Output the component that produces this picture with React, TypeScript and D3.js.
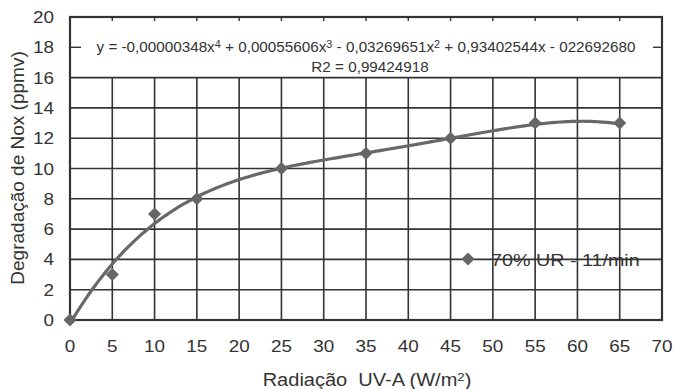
import React from "react";
import * as d3 from "d3";

const xValues = [0, 5, 10, 15, 25, 35, 45, 55, 65];
const yValues = [0, 3, 7, 8, 10, 11, 12, 13, 13];
const xTicks = [0, 5, 10, 15, 20, 25, 30, 35, 40, 45, 50, 55, 60, 65, 70];
const yTicks = [0, 2, 4, 6, 8, 10, 12, 14, 16, 18, 20];
// trendline coefficients as displayed (x^4, x^3, x^2, x, const)
const coeffs = [-0.00000348, 0.00055606, -0.03269651, 0.93402544, -0.2269268];
const seriesName = "70% UR - 11/min";

const W = 676;
const H = 389;
const left = 70, right = 662, top = 17, bottom = 320;
const font = "Liberation Sans, Arial, sans-serif";
const ink = "#333";

function SText(props: { x: number; y: number; sx: number; size: number; anchor?: string; children: any }) {
  return (
    <g transform={`translate(${props.x},${props.y}) scale(${props.sx},1)`}>
      <text x={0} y={0} textAnchor={props.anchor || "start"} fontSize={props.size} fill={ink} xmlSpace="preserve">
        {props.children}
      </text>
    </g>
  );
}

export default function App() {
  const x = d3.scaleLinear().domain([0, 70]).range([left, right]);
  const y = d3.scaleLinear().domain([0, 20]).range([bottom, top]);
  const poly = (v: number) => coeffs.reduce((acc, c) => acc * v + c, 0);
  const curvePts = d3.range(0, 65.01, 0.5).map((v) => [v, Math.max(0, poly(v))] as [number, number]);
  const line = d3.line<[number, number]>().x((d) => x(d[0])).y((d) => y(d[1])).curve(d3.curveMonotoneX);
  const diamond = d3.symbol().type(d3.symbolDiamond2).size(110)();
  const gridTop = y(16);

  return (
    <svg width={W} height={H} style={{ position: "absolute", left: 0, top: 0 }} fontFamily={font}>
      <rect x={0} y={0} width={W} height={H} fill="#fff" />
      {/* vertical grid */}
      {xTicks.slice(1, -1).map((t) => (
        <line key={"vx" + t} x1={x(t)} x2={x(t)} y1={gridTop} y2={bottom} stroke={ink} strokeWidth={1.6} />
      ))}
      {/* top ticks */}
      {xTicks.slice(1, -1).map((t) => (
        <line key={"tx" + t} x1={x(t)} x2={x(t)} y1={top} y2={top + 4} stroke={ink} strokeWidth={1.4} />
      ))}
      {/* horizontal grid */}
      {yTicks.filter((t) => t > 0 && t <= 16).map((t) => (
        <line key={"hy" + t} x1={left} x2={right} y1={y(t)} y2={y(t)} stroke={ink} strokeWidth={1.6} />
      ))}
      <line x1={left} x2={left + 11} y1={y(18)} y2={y(18)} stroke={ink} strokeWidth={1.4} />
      <line x1={right - 9} x2={right} y1={y(18)} y2={y(18)} stroke={ink} strokeWidth={1.4} />
      {/* frame */}
      <rect x={left} y={top} width={right - left} height={bottom - top} fill="none" stroke={ink} strokeWidth={2.2} />

      {/* trendline */}
      <path d={line(curvePts) || ""} fill="none" stroke="#686868" strokeWidth={3.2} />
      {xValues.map((v, i) => (
        <path key={"p" + i} d={diamond || ""} transform={`translate(${x(v)},${y(yValues[i])})`} fill="#666" />
      ))}

      {/* equation */}
      <SText x={366} y={52} sx={1.09} size={14} anchor="middle">
        <tspan>y = -0,00000348x</tspan>
        <tspan fontSize={10} dy={-4}>4</tspan>
        <tspan dy={4}> + 0,00055606x</tspan>
        <tspan fontSize={10} dy={-4}>3</tspan>
        <tspan dy={4}> - 0,03269651x</tspan>
        <tspan fontSize={10} dy={-4}>2</tspan>
        <tspan dy={4}> + 0,93402544x - 022692680</tspan>
      </SText>
      <SText x={370} y={72} sx={1.09} size={14} anchor="middle">R2 = 0,99424918</SText>

      {/* legend */}
      <path d={diamond || ""} transform={`translate(468,259)`} fill="#666" />
      <SText x={491} y={266} sx={1.16} size={17}>{seriesName}</SText>

      {/* tick labels */}
      {xTicks.map((t) => (
        <SText key={"xl" + t} x={x(t)} y={352} sx={1.18} size={16} anchor="middle">{t}</SText>
      ))}
      {yTicks.map((t) => (
        <SText key={"yl" + t} x={54} y={y(t) + 6} sx={1.18} size={16} anchor="end">{t}</SText>
      ))}

      {/* axis titles */}
      <SText x={367} y={386} sx={1.145} size={17.5} anchor="middle">
        <tspan>Radiação  UV-A (W/m</tspan>
        <tspan fontSize={11.5} dy={-5}>2</tspan>
        <tspan dy={5}>)</tspan>
      </SText>
      <text transform={`translate(24,168) rotate(-90)`} textAnchor="middle" fontSize={19} fill={ink}>
        Degradação de Nox (ppmv)
      </text>
    </svg>
  );
}
